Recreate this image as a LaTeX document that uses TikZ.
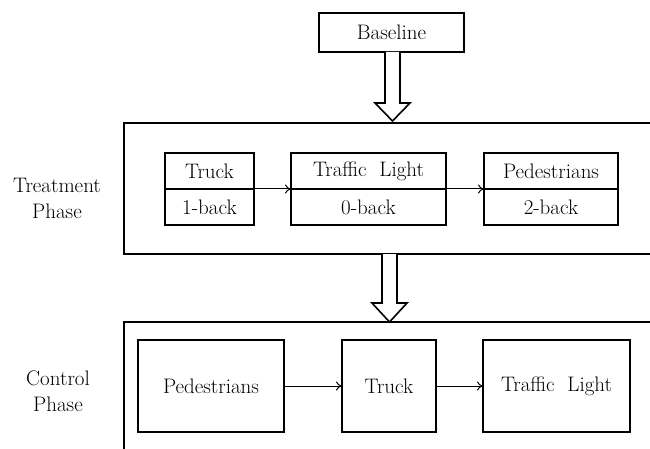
\documentclass[tikz,border=0pt]{standalone}
\usetikzlibrary{calc,arrows.meta}
\begin{document}
\begin{tikzpicture}[x=1pt,y=-1pt,
  every node/.style={font=\rmfamily\fontsize{21}{26}\selectfont, inner sep=0pt, outer sep=0pt},
  box/.style={draw, line width=1.3pt, rectangle},
  outerbox/.style={draw, line width=1.6pt, rectangle},
  hollow/.style={draw, line width=1.6pt, fill=white, line join=miter},
  flow/.style={draw, line width=1pt, -{To[length=6pt,width=9pt]}}]
\useasboundingbox (0,0) rectangle (650,449);
\clip (0,0) rectangle (650,449);
% baseline
\node[box, minimum width=145pt, minimum height=39pt] (base) at (391.5,32.5) {Baseline};
% treatment phase frame
\node[outerbox, minimum width=540pt, minimum height=131pt] (treat) at (394,188.5) {};
\node[align=center] (tlabel) at (57,198) {Treatment\\Phase};
% control phase frame
\node[outerbox, minimum width=540pt, minimum height=148pt] (ctrl) at (394,396) {};
\node[align=center] (clabel) at (58,391) {Control\\Phase};
% hollow arrows
\coordinate (a1) at (392.5,52);
\draw[hollow] ($(a1)+(-7.5,0)$) -- ($(a1)+(-7.5,51)$) -- ($(a1)+(-17.5,51)$) -- ($(a1)+(0,69)$)
  -- ($(a1)+(17.5,51)$) -- ($(a1)+(7.5,51)$) -- ($(a1)+(7.5,0)$);
\coordinate (a2) at (389.5,254);
\draw[hollow] ($(a2)+(-7.5,0)$) -- ($(a2)+(-7.5,49)$) -- ($(a2)+(-17.5,49)$) -- ($(a2)+(0,68)$)
  -- ($(a2)+(17.5,49)$) -- ($(a2)+(7.5,49)$) -- ($(a2)+(7.5,0)$);
% treatment boxes
\node[box, minimum width=89pt, minimum height=36pt] (t1a) at (209.5,171) {Truck};
\node[box, minimum width=89pt, minimum height=36pt] (t1b) at (209.5,207) {1-back};
\node[box, minimum width=155pt, minimum height=36pt] (t2a) at (368.5,171) {Traffic\ \ Light};
\node[box, minimum width=155pt, minimum height=36pt] (t2b) at (368.5,207) {0-back};
\node[box, minimum width=134pt, minimum height=36pt] (t3a) at (551,171) {Pedestrians};
\node[box, minimum width=134pt, minimum height=36pt] (t3b) at (551,207) {2-back};
\draw[flow] (t1a.south east) -- (t2a.south west);
\draw[flow] (t2a.south east) -- (t3a.south west);
% control boxes
\node[box, minimum width=146pt, minimum height=92pt] (c1) at (211,386) {Pedestrians};
\node[box, minimum width=94pt, minimum height=92pt] (c2) at (389,386) {Truck};
\node[box, minimum width=147pt, minimum height=92pt] (c3) at (556.5,386) {Traffic\ \ Light};
\draw[flow] (c1) -- (c2);
\draw[flow] (c2) -- (c3);
\end{tikzpicture}
\end{document}
